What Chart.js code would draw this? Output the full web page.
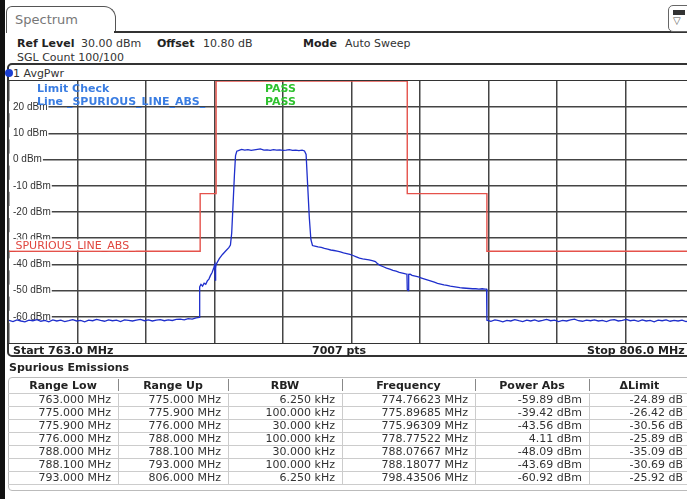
<!DOCTYPE html>
<html>
<head>
<meta charset="utf-8">
<script src="https://cdn.jsdelivr.net/npm/chart.js@4.4.1/dist/chart.umd.min.js"></script>
<style>
html, body { margin: 0; padding: 0; width: 687px; height: 499px; overflow: hidden; background: #fff; }
body { position: relative; font-family: "DejaVu Sans", Verdana, sans-serif; font-size: 11px; color: #333; }
.t { position: absolute; white-space: nowrap; line-height: 13px; }
.t b { color: #222; }
#leftbar { position: absolute; left: 0; top: 0; width: 5px; height: 499px; background: #111; }
#tab { position: absolute; left: 6px; top: 6px; width: 108px; height: 26px; border: 1px solid #555; border-bottom: none; border-radius: 6px 12px 0 0; }
#tab span { position: absolute; left: 8px; top: 5px; font-size: 13px; color: #777; }
#hline1 { position: absolute; left: 114px; top: 31px; width: 600px; height: 2px; background: #333; }
#icon { position: absolute; left: 668px; top: 5px; width: 30px; height: 25px; border: 1px solid #666; border-radius: 5px; background: #fff; }
#icon i { position: absolute; left: 4px; top: 4px; width: 12px; height: 5px; background: #333; }
#icon span { position: absolute; left: 4px; top: 9px; font-size: 10px; line-height: 12px; color: #555; }
#box { position: absolute; left: 7px; top: 63px; width: 700px; height: 290px; border: 2px solid #333; border-radius: 5px; }
#avgline { position: absolute; left: 9px; top: 80px; width: 700px; height: 1px; background: #333; }
#footline { position: absolute; left: 9px; top: 343px; width: 700px; height: 1px; background: #333; }
#dot { position: absolute; left: 5px; top: 69px; width: 8px; height: 8px; border-radius: 50%; background: #1b3fd2; }
#plot { position: absolute; left: 0; top: 71px; }
#tbl { position: absolute; left: 8px; top: 377px; width: 700px; height: 112px; border: 1px solid #bbb; border-radius: 4px; }
.cell { position: absolute; white-space: nowrap; line-height: 13px; }
.ln { position: absolute; }
</style>
</head>
<body>
<div id="leftbar"></div>
<div id="tab"><span>Spectrum</span></div>
<div id="hline1"></div>
<div id="icon"><i></i><span>&#9661;</span></div>
<div class="t" style="left:17px;top:37px"><b>Ref Level</b></div>
<div class="t" style="left:81px;top:37px">30.00 dBm</div>
<div class="t" style="left:157px;top:37px"><b>Offset</b></div>
<div class="t" style="left:203px;top:37px">10.80 dB</div>
<div class="t" style="left:303px;top:37px"><b>Mode</b></div>
<div class="t" style="left:345px;top:37px">Auto Sweep</div>
<div class="t" style="left:17px;top:51px">SGL Count 100/100</div>

<div id="box"></div>
<div id="dot"></div>
<div class="t" style="left:13px;top:67px">1 AvgPwr</div>

<canvas id="plot" width="694" height="282"></canvas>

<div id="avgline"></div>
<div id="footline"></div>
<div class="t" style="left:13px;top:344px"><b>Start 763.0 MHz</b></div>
<div class="t" style="left:312px;top:344px"><b>7007 pts</b></div>
<div class="t" style="left:587px;top:344px"><b>Stop 806.0 MHz</b></div>

<div class="t" style="left:9px;top:361px"><b>Spurious Emissions</b></div>
<div id="tbl"></div>

<script>
// Trace (freq MHz, level dBm)
const traceLowNoise = [
    [763.00, -61.4], [763.25, -61.8], [763.50, -61.2], [763.75, -61.6], [764.00, -61.9], [764.25, -61.3],
    [764.50, -61.5], [764.75, -61.1], [765.00, -61.7], [765.25, -61.4], [765.50, -61.9], [765.75, -61.2],
    [766.00, -61.6], [766.25, -61.3], [766.50, -61.8], [766.75, -61.5], [767.00, -61.1], [767.25, -61.6],
    [767.50, -61.4], [767.75, -61.9], [768.00, -61.3], [768.25, -61.5], [768.50, -61.0], [768.75, -61.4],
    [769.00, -61.7], [769.25, -61.2], [769.50, -61.5], [769.75, -61.3], [770.00, -61.8], [770.25, -61.2],
    [770.50, -61.4], [770.75, -61.6], [771.00, -61.3], [771.25, -61.0], [771.50, -61.5], [771.75, -61.2],
    [772.00, -61.6], [772.25, -61.3], [772.50, -61.1], [772.75, -61.5], [773.00, -61.2], [773.25, -61.4],
    [773.50, -61.0], [773.75, -60.9], [774.00, -61.2], [774.25, -60.7], [774.50, -60.9], [774.75, -60.4],
    [774.95, -60.2]
];
const traceCarrier = [
    [774.97, -48.6], [775.05, -47.6], [775.15, -48.3], [775.25, -47.2], [775.35, -47.6], [775.45, -46.3],
    [775.55, -45.6], [775.65, -44.2], [775.75, -43.1], [775.85, -41.4], [775.92, -40.1], [775.95, -46.0],
    [775.97, -41.5], [776.00, -40.0], [776.20, -37.8], [776.40, -36.2], [776.60, -34.9], [776.80, -33.6],
    [776.90, -32.6], [776.98, -28.0], [777.05, -19.0], [777.15, -6.0], [777.22, 1.5], [777.30, 3.2],
    [777.40, 3.4], [777.60, 3.9], [777.80, 3.6], [778.00, 3.8], [778.20, 3.5], [778.40, 3.7],
    [778.60, 3.9], [778.78, 4.1], [779.00, 3.6], [779.20, 3.7], [779.40, 3.5], [779.60, 3.8],
    [779.80, 3.6], [780.00, 3.7], [780.20, 3.5], [780.40, 3.6], [780.60, 3.8], [780.80, 3.5],
    [781.00, 3.6], [781.20, 3.4], [781.40, 3.6], [781.55, 3.3], [781.65, 2.0], [781.75, -10.0],
    [781.85, -22.0], [781.95, -30.5], [782.05, -32.8], [782.20, -33.0], [782.40, -33.3], [782.60, -33.5],
    [782.80, -33.9], [783.00, -34.2], [783.20, -34.5], [783.40, -34.7], [783.60, -34.9], [783.80, -35.2],
    [784.00, -35.6], [784.20, -35.9], [784.40, -36.2], [784.60, -36.6], [784.80, -37.1], [785.00, -37.6],
    [785.20, -37.9], [785.40, -38.1], [785.60, -38.3], [785.80, -38.6], [786.00, -38.9], [786.15, -39.8],
    [786.30, -40.4], [786.50, -40.9], [786.70, -41.4], [786.90, -41.8], [787.10, -42.3], [787.30, -42.6],
    [787.50, -43.0], [787.70, -43.3], [787.90, -43.6], [787.98, -43.7], [788.00, -49.5], [788.05, -50.0],
    [788.08, -48.1], [788.10, -43.8], [788.18, -43.7], [788.30, -44.2], [788.50, -44.5], [788.70, -44.8],
    [788.90, -45.2], [789.10, -45.6], [789.30, -46.0], [789.50, -46.4], [789.70, -46.8], [789.90, -47.2],
    [790.10, -47.5], [790.30, -47.8], [790.50, -48.0], [790.70, -48.3], [790.90, -48.5], [791.10, -48.7],
    [791.30, -48.9], [791.50, -49.0], [791.70, -49.1], [791.90, -49.2], [792.10, -49.3], [792.30, -49.3],
    [792.50, -49.4], [792.70, -49.3], [792.90, -49.4], [792.98, -49.4]
];
const traceHighNoise = [
    [793.00, -61.3], [793.25, -61.7], [793.50, -61.2], [793.75, -61.5], [794.00, -61.9], [794.25, -61.4],
    [794.50, -61.6], [794.75, -61.1], [795.00, -61.5], [795.25, -61.8], [795.50, -61.3], [795.75, -61.6],
    [796.00, -61.2], [796.25, -61.7], [796.50, -61.4], [796.75, -61.0], [797.00, -61.5], [797.25, -61.3],
    [797.50, -61.8], [797.75, -61.4], [798.00, -61.6], [798.25, -61.2], [798.50, -60.9], [798.75, -61.5],
    [799.00, -61.7], [799.25, -61.3], [799.50, -61.5], [799.75, -61.2], [800.00, -61.6], [800.25, -61.4],
    [800.50, -61.8], [800.75, -61.3], [801.00, -61.1], [801.25, -61.6], [801.50, -61.4], [801.75, -61.0],
    [802.00, -61.5], [802.25, -61.3], [802.50, -61.7], [802.75, -61.2], [803.00, -61.6], [803.25, -61.4],
    [803.50, -61.9], [803.75, -61.3], [804.00, -61.5], [804.25, -61.2], [804.50, -61.7], [804.75, -61.4],
    [805.00, -61.6], [805.25, -61.3], [805.50, -61.8], [805.75, -61.4], [806.00, -61.5]
];

// Limit line _SPURIOUS_LINE_ABS_
const limitFreq = [763, 775, 775, 776, 776, 788, 788, 793, 793, 806];
const limitLevel = [-35, -35, -13, -13, 30, 30, -13, -13, -35, -35];

// graticule: 10 divisions on each axis
const xGridMHz = [763, 767.3, 771.6, 775.9, 780.2, 784.5, 788.8, 793.1, 797.4, 801.7, 806];
const yMin = -70, yMax = 30, yStep = 10;

// Spurious Emissions table
const tableHead = ['Range Low', 'Range Up', 'RBW', 'Frequency', 'Power Abs', '\u0394Limit'];
const rangeLow = ['763.000 MHz', '775.000 MHz', '775.900 MHz', '776.000 MHz', '788.000 MHz', '788.100 MHz', '793.000 MHz'];
const rangeUp = ['775.000 MHz', '775.900 MHz', '776.000 MHz', '788.000 MHz', '788.100 MHz', '793.000 MHz', '806.000 MHz'];
const rbw = ['6.250 kHz', '100.000 kHz', '30.000 kHz', '100.000 kHz', '30.000 kHz', '100.000 kHz', '6.250 kHz'];
const peakFreq = ['774.76623 MHz', '775.89685 MHz', '775.96309 MHz', '778.77522 MHz', '788.07667 MHz', '788.18077 MHz', '798.43506 MHz'];
const powerAbs = ['-59.89 dBm', '-39.42 dBm', '-43.56 dBm', '4.11 dBm', '-48.09 dBm', '-43.69 dBm', '-60.92 dBm'];
const deltaLimit = ['-24.89 dB', '-26.42 dB', '-30.56 dB', '-25.89 dB', '-35.09 dB', '-30.69 dB', '-25.92 dB'];

// build the table
const colEdges = [8, 118, 228, 342, 475, 589, 690];
const headTop = 377, rowTop = 393, rowH = 13;
function addDiv(cls, style, html) {
    const d = document.createElement('div');
    d.className = cls;
    d.setAttribute('style', style);
    if (html) d.innerHTML = html;
    document.body.appendChild(d);
}
const columns = [rangeLow, rangeUp, rbw, peakFreq, powerAbs, deltaLimit];
for (let c = 0; c < columns.length; c++) {
    const l = colEdges[c], w = colEdges[c + 1] - colEdges[c];
    addDiv('cell', `left:${l}px;width:${w}px;top:${headTop + 2}px;text-align:center;font-weight:bold;color:#222`, tableHead[c]);
    if (c > 0) {
        addDiv('ln', `left:${l}px;top:${headTop + 2}px;width:1px;height:12px;background:#888`);
        addDiv('ln', `left:${l}px;top:${rowTop}px;width:1px;height:${rowH * 7}px;background:#ccc`);
    }
    for (let r = 0; r < columns[c].length; r++) {
        addDiv('cell', `left:${l}px;width:${w - 7}px;top:${rowTop + r * rowH}px;text-align:right`, columns[c][r]);
    }
}
for (let r = 0; r <= 7; r++) {
    addDiv('ln', `left:8px;top:${rowTop + r * rowH}px;width:700px;height:1px;background:#ccc`);
}

// texts drawn over the diagram
const overlay = {
    id: 'overlay',
    afterDatasetsDraw(chart) {
        const c = chart.ctx, a = chart.chartArea;
        c.save();
        const yLim = chart.scales.y.getPixelForValue(limitLevel[0]);
        c.font = '11px "DejaVu Sans"';
        const txt = '_SPURIOUS_LINE_ABS_';
        const w = c.measureText(txt).width;
        c.fillStyle = '#fff';
        c.fillRect(a.left, yLim - 12, w + 2, 11);
        c.fillStyle = '#e0463f';
        c.textBaseline = 'alphabetic';
        c.fillText(txt, a.left + 1, yLim - 2);

        c.font = 'bold 11px "DejaVu Sans"';
        c.textBaseline = 'middle';
        c.fillStyle = '#3a7de2';
        c.fillText('Limit Check', a.left + 28, a.top + 8);
        c.fillText('Line _SPURIOUS_LINE_ABS_', a.left + 28, a.top + 21);
        c.fillStyle = '#2fc22f';
        c.fillText('PASS', a.left + 256, a.top + 8);
        c.fillText('PASS', a.left + 256, a.top + 21);
        c.restore();
    }
};

const trace = traceLowNoise.concat(traceCarrier, traceHighNoise);
const ctx = document.getElementById('plot').getContext('2d');
new Chart(ctx, {
    type: 'line',
    data: {
        datasets: [{
            label: '1 AvgPwr',
            data: trace.map(p => ({ x: p[0], y: p[1] })),
            borderColor: '#1f2fcc',
            borderWidth: 1.3,
            pointRadius: 0,
            tension: 0,
            clip: 3
        }, {
            label: 'SPURIOUS_LINE_ABS',
            data: limitFreq.map((f, i) => ({ x: f, y: limitLevel[i] })),
            borderColor: '#e5524b',
            borderWidth: 1.4,
            pointRadius: 0,
            tension: 0,
            clip: 3
        }]
    },
    options: {
        responsive: false,
        animation: false,
        events: [],
        layout: { padding: { left: 1, right: 0, top: 0, bottom: 0 } },
        plugins: {
            legend: { display: false },
            tooltip: { enabled: false }
        },
        scales: {
            x: {
                type: 'linear',
                min: 763,
                max: 806,
                afterBuildTicks: scale => { scale.ticks = xGridMHz.map(v => ({ value: v })); },
                ticks: { display: false },
                grid: { color: '#444', lineWidth: 1.5, drawTicks: false },
                border: { display: false }
            },
            y: {
                min: yMin,
                max: yMax,
                ticks: {
                    stepSize: yStep,
                    mirror: true,
                    padding: 4,
                    color: '#333',
                    font: { family: 'Liberation Sans', size: 10 },
                    showLabelBackdrop: true,
                    backdropColor: '#fff',
                    backdropPadding: { left: 4, right: 1, top: 0, bottom: 0 },
                    callback: v => (v === yMax || v === yMin) ? null : v + ' dBm'
                },
                grid: { color: '#444', lineWidth: 1.5, drawTicks: false },
                border: { display: false }
            }
        }
    },
    plugins: [overlay]
});
</script>
</body>
</html>
